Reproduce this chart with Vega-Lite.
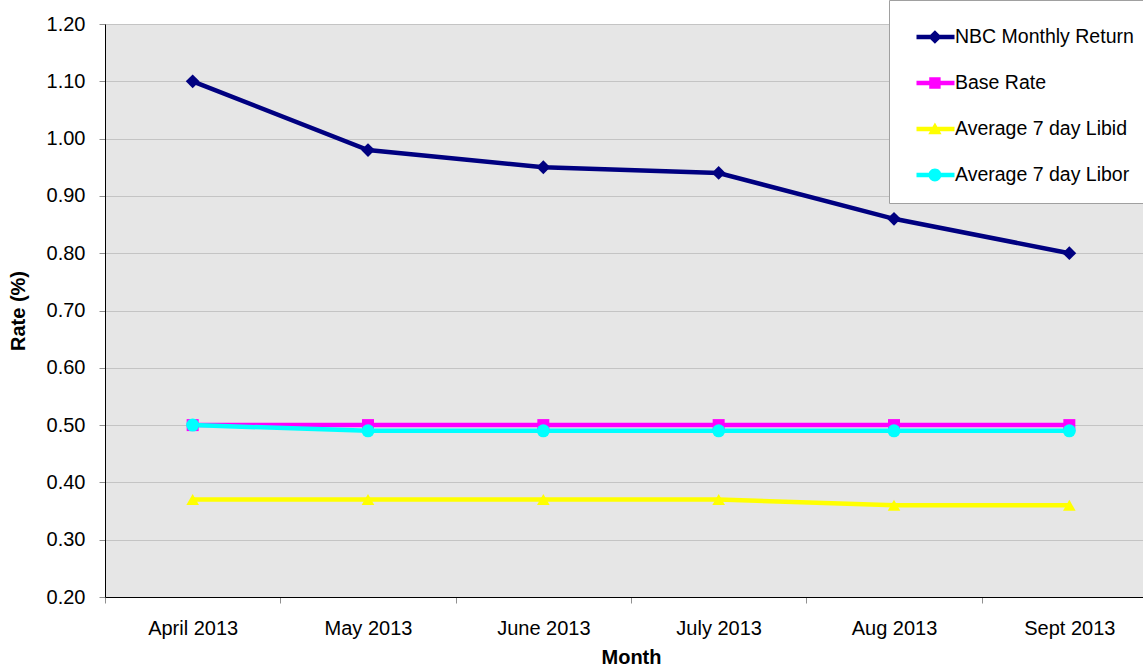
{
  "$schema": "https://vega.github.io/schema/vega-lite/v6.json",
  "width": 1052,
  "height": 573,
  "autosize": {"type": "none"},
  "padding": {"left": 105, "top": 24, "right": 0, "bottom": 69},
  "background": "white",
  "config": {
    "font": "Liberation Sans",
    "view": {"fill": "#e6e6e6", "stroke": "#b0b0b0", "strokeWidth": 1},
    "axis": {"labelFont": "Liberation Sans", "titleFont": "Liberation Sans", "labelColor": "black", "titleColor": "black"}
  },
  "data": {"values": [
    {"Month": "April 2013", "Series": "NBC Monthly Return", "Rate": 1.10},
    {"Month": "May 2013", "Series": "NBC Monthly Return", "Rate": 0.98},
    {"Month": "June 2013", "Series": "NBC Monthly Return", "Rate": 0.95},
    {"Month": "July 2013", "Series": "NBC Monthly Return", "Rate": 0.94},
    {"Month": "Aug 2013", "Series": "NBC Monthly Return", "Rate": 0.86},
    {"Month": "Sept 2013", "Series": "NBC Monthly Return", "Rate": 0.80},
    {"Month": "April 2013", "Series": "Base Rate", "Rate": 0.50},
    {"Month": "May 2013", "Series": "Base Rate", "Rate": 0.50},
    {"Month": "June 2013", "Series": "Base Rate", "Rate": 0.50},
    {"Month": "July 2013", "Series": "Base Rate", "Rate": 0.50},
    {"Month": "Aug 2013", "Series": "Base Rate", "Rate": 0.50},
    {"Month": "Sept 2013", "Series": "Base Rate", "Rate": 0.50},
    {"Month": "April 2013", "Series": "Average 7 day Libid", "Rate": 0.37},
    {"Month": "May 2013", "Series": "Average 7 day Libid", "Rate": 0.37},
    {"Month": "June 2013", "Series": "Average 7 day Libid", "Rate": 0.37},
    {"Month": "July 2013", "Series": "Average 7 day Libid", "Rate": 0.37},
    {"Month": "Aug 2013", "Series": "Average 7 day Libid", "Rate": 0.36},
    {"Month": "Sept 2013", "Series": "Average 7 day Libid", "Rate": 0.36},
    {"Month": "April 2013", "Series": "Average 7 day Libor", "Rate": 0.50},
    {"Month": "May 2013", "Series": "Average 7 day Libor", "Rate": 0.49},
    {"Month": "June 2013", "Series": "Average 7 day Libor", "Rate": 0.49},
    {"Month": "July 2013", "Series": "Average 7 day Libor", "Rate": 0.49},
    {"Month": "Aug 2013", "Series": "Average 7 day Libor", "Rate": 0.49},
    {"Month": "Sept 2013", "Series": "Average 7 day Libor", "Rate": 0.49}
  ]},
  "encoding": {
    "x": {
      "field": "Month", "type": "nominal", "sort": null,
      "scale": {"type": "band", "paddingInner": 0, "paddingOuter": 0},
      "axis": {
        "title": "Month", "titleFontSize": 20, "titleFontWeight": "bold", "titlePadding": 9,
        "labelAngle": 0, "labelFontSize": 20, "labelPadding": 15,
        "tickBand": "extent", "tickSize": 6, "tickColor": "#909090",
        "domainColor": "black", "grid": false
      }
    },
    "y": {
      "field": "Rate", "type": "quantitative",
      "scale": {"domain": [0.2, 1.2], "nice": false, "zero": false},
      "axis": {
        "title": "Rate (%)", "titleFontSize": 20, "titleFontWeight": "bold", "titlePadding": 18,
        "values": [0.2, 0.3, 0.4, 0.5, 0.6, 0.7, 0.8, 0.9, 1.0, 1.1, 1.2],
        "format": ".2f", "labelFontSize": 20, "labelPadding": 14,
        "tickSize": 6, "tickColor": "#909090", "domainColor": "black",
        "grid": true, "gridColor": "#c4c4c4", "gridWidth": 1
      }
    },
    "color": {
      "field": "Series", "type": "nominal",
      "scale": {
        "domain": ["NBC Monthly Return", "Base Rate", "Average 7 day Libid", "Average 7 day Libor"],
        "range": ["#000080", "#FF00FF", "#FFFF00", "#00FFFF"]
      },
      "legend": {
        "title": null, "orient": "none", "legendX": 784, "legendY": -24,
        "fillColor": "white", "strokeColor": "#a0a0a0", "padding": 18,
        "symbolSize": 1444, "symbolStrokeWidth": 0, "symbolOpacity": 1,
        "symbolType": {"expr": "datum.value === 'NBC Monthly Return' ? 'M-0.5,-0.12H1.5V0.12H-0.5Z M0.47,-0.36L0.83,0L0.47,0.36L0.11,0Z' : datum.value === 'Base Rate' ? 'M-0.5,-0.12H1.5V0.12H-0.5Z M0.17,-0.3H0.77V0.3H0.17Z' : datum.value === 'Average 7 day Libid' ? 'M-0.5,-0.12H1.5V0.12H-0.5Z M0.47,-0.34L0.82,0.28H0.12Z' : 'M-0.5,-0.12H1.5V0.12H-0.5Z M0.13,0A0.34,0.34,0,1,1,0.81,0A0.34,0.34,0,1,1,0.13,0Z'"},
        "labelFont": "Liberation Sans", "labelFontSize": 19.5, "labelColor": "black",
        "labelOffset": 10, "labelLimit": 400, "rowPadding": 17
      }
    }
  },
  "layer": [
    {"mark": {"type": "line", "strokeWidth": 4.5}},
    {
      "transform": [{"filter": "datum.Series === 'NBC Monthly Return'"}],
      "mark": {"type": "point", "filled": true, "opacity": 1, "shape": "diamond", "size": 190}
    },
    {
      "transform": [{"filter": "datum.Series === 'Base Rate'"}],
      "mark": {"type": "point", "filled": true, "opacity": 1, "shape": "square", "size": 144}
    },
    {
      "transform": [{"filter": "datum.Series === 'Average 7 day Libid'"}],
      "mark": {"type": "point", "filled": true, "opacity": 1, "shape": "triangle-up", "size": 160}
    },
    {
      "transform": [{"filter": "datum.Series === 'Average 7 day Libor'"}],
      "mark": {"type": "point", "filled": true, "opacity": 1, "shape": "circle", "size": 169}
    }
  ]
}
